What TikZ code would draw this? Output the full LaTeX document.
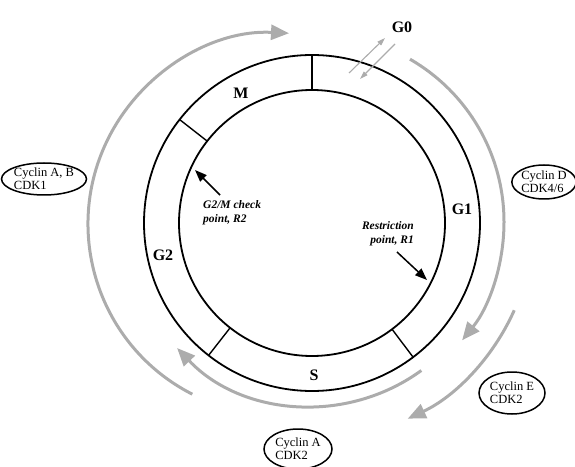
\documentclass[tikz,border=0pt]{standalone}
\usepackage{fontspec}
\setmainfont{Liberation Serif}
\usetikzlibrary{arrows.meta,shapes.geometric}
\definecolor{arcgray}{RGB}{172,172,172}
\begin{document}
\begin{tikzpicture}[x=1pt,y=1pt,
  ring/.style={line width=1.8pt},
  divider/.style={line width=1.4pt},
  phase/.style={font=\fontsize{16}{16}\selectfont\bfseries, inner sep=0pt},
  cyc/.style={draw, ellipse, line width=1.5pt, inner sep=0pt, align=left,
    font=\fontsize{12.5}{13}\selectfont},
  flow/.style={draw=arcgray, line width=3pt, -{Triangle[length=18pt,width=15pt]}},
  thin/.style={draw=arcgray, line width=1.1pt, -{Triangle[length=8pt,width=5pt]}},
  point/.style={line width=1.5pt, -{Triangle[length=12pt,width=9pt]}},
  note/.style={font=\fontsize{11.5}{14}\selectfont\bfseries\itshape, inner sep=0pt}]
\useasboundingbox (0,0) rectangle (575,466);
\coordinate (c) at (312,243);
\draw[ring] (c) circle[radius=168];
\draw[ring] (c) circle[radius=133];
\foreach \a in {90,142,232,307}
  \draw[divider] ([shift={(\a:133)}]c) -- ([shift={(\a:168)}]c);
% phase labels
\node[phase] (g0) at (402,439) {G0};
\node[phase] (m) at (241,373) {M};
\node[phase] (g1) at (462,257) {G1};
\node[phase] (g2) at (163,211) {G2};
\node[phase] (s) at (314,91) {S};
% G0 arrows
\coordinate (g0a1) at (349,393); \coordinate (g0a2) at (385,428);
\coordinate (g0b1) at (395,422); \coordinate (g0b2) at (360,387);
\draw[thin] (g0a1) -- (g0a2);
\draw[thin] (g0b1) -- (g0b2);
% gray arcs
\coordinate (c1) at (279,242);
\coordinate (c2) at (316,244);
\coordinate (c4) at (312,246);
\draw[flow] ([shift={(243:191)}]c1) arc[start angle=243, end angle=87, radius=191];
\draw[flow] ([shift={(60:188)}]c2) arc[start angle=60, end angle=-39, radius=188];
\draw[flow] ([shift={(-24:217)}]c2) arc[start angle=-24, end angle=-65, radius=217];
\draw[flow] ([shift={(-54:186)}]c4) arc[start angle=-54, end angle=-136.5, radius=186];
% checkpoints
\coordinate (r2t) at (220,271); \coordinate (r2h) at (195,296);
\coordinate (r1t) at (397,214); \coordinate (r1h) at (427,186);
\draw[point] (r2t) -- (r2h);
\draw[point] (r1t) -- (r1h);
\node[note, anchor=west, align=left] (r2) at (203,253.5) {G2/M check\\point, R2};
\node[note, anchor=east, align=right] (r1) at (414,232.5) {Restriction\\point, R1};
% cyclin ellipses
\node[cyc, minimum width=64pt, minimum height=32pt] (cab) at (44,287) {Cyclin A, B\\CDK1};
\node[cyc, minimum width=64pt, minimum height=34pt] (cd) at (544,284) {Cyclin D\\CDK4/6};
\node[cyc, minimum width=66pt, minimum height=42pt] (ce) at (512,73) {Cyclin E\\CDK2};
\node[cyc, minimum width=68pt, minimum height=40pt] (ca) at (298,17) {Cyclin A\\CDK2};
\end{tikzpicture}
\end{document}
